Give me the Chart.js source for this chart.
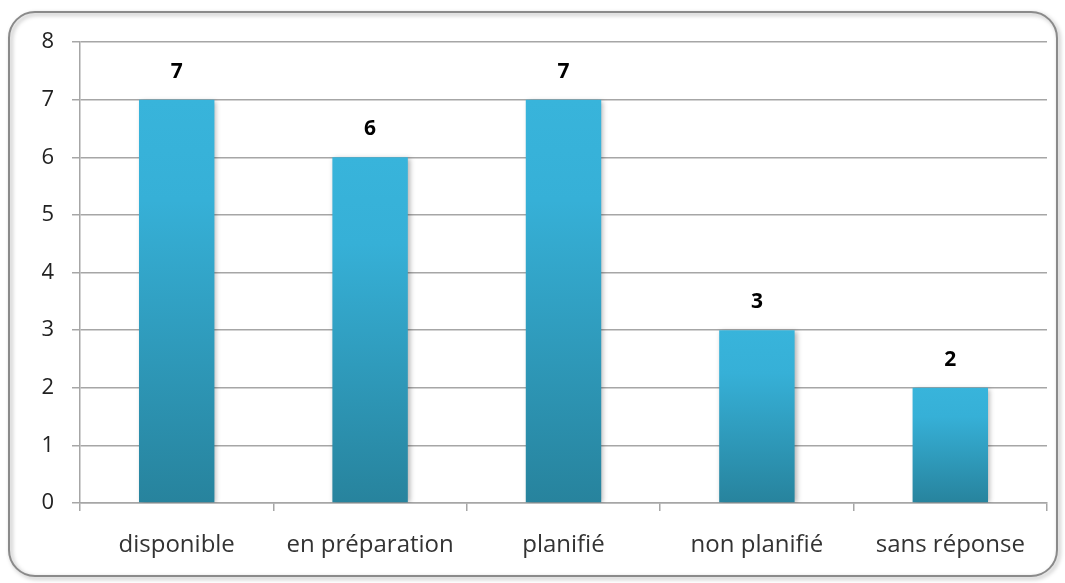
<!DOCTYPE html>
<html>
<head>
<meta charset="utf-8">
<script src="https://cdn.jsdelivr.net/npm/chart.js"></script>
<style>
  html, body { margin: 0; padding: 0; background: #fff; }
  #wrap { width: 1065px; height: 583px; }
</style>
</head>
<body>
<div id="wrap"><canvas id="c" width="1065" height="583"></canvas></div>
<script>
// data
const categories = ['disponible', 'en préparation', 'planifié', 'non planifié', 'sans réponse'];
const counts = [7, 6, 7, 3, 2];
const yTicks = [0, 1, 2, 3, 4, 5, 6, 7, 8];

const FONT = '"Open Sans", Lato, sans-serif';

// rounded frame around the whole chart
const framePlugin = {
  id: 'frame',
  beforeDraw(chart) {
    const ctx = chart.ctx;
    ctx.save();
    ctx.fillStyle = '#fff';
    ctx.fillRect(0, 0, chart.width, chart.height);
    ctx.shadowColor = 'rgba(0,0,0,0.35)';
    ctx.shadowBlur = 4;
    ctx.shadowOffsetX = 2;
    ctx.shadowOffsetY = 2;
    ctx.beginPath();
    ctx.roundRect(9, 12, 1048, 564, 26);
    ctx.strokeStyle = '#8a8a8a';
    ctx.lineWidth = 2;
    ctx.stroke();
    ctx.restore();
  }
};

// soft shadow under the bars
const barShadow = {
  id: 'barShadow',
  beforeDatasetDraw(chart) {
    const ctx = chart.ctx;
    ctx.save();
    ctx.shadowColor = 'rgba(0,0,0,0.3)';
    ctx.shadowBlur = 5;
    ctx.shadowOffsetX = 2;
    ctx.shadowOffsetY = 1;
  },
  afterDatasetDraw(chart) {
    chart.ctx.restore();
  }
};

// bold value labels above each bar
const valueLabels = {
  id: 'valueLabels',
  afterDatasetsDraw(chart) {
    const ctx = chart.ctx;
    const meta = chart.getDatasetMeta(0);
    ctx.save();
    ctx.font = 'bold 21px ' + FONT;
    ctx.fillStyle = '#000';
    ctx.textAlign = 'center';
    ctx.textBaseline = 'middle';
    meta.data.forEach((bar, i) => {
      ctx.fillText(String(counts[i]), bar.x, bar.y - 28);
    });
    ctx.restore();
  }
};

// each bar goes from light at its top to dark at its base
function barGradient(context) {
  const chart = context.chart;
  const y = chart.scales && chart.scales.y;
  if (!chart.chartArea || !y) return '#34b0d6';
  const top = y.getPixelForValue(context.raw);
  const base = y.getPixelForValue(0);
  const g = chart.ctx.createLinearGradient(0, top, 0, base);
  g.addColorStop(0, '#38b4db');
  g.addColorStop(0.25, '#36b0d7');
  g.addColorStop(1, '#27839d');
  return g;
}

new Chart(document.getElementById('c'), {
  type: 'bar',
  data: {
    labels: categories,
    datasets: [{
      data: counts,
      backgroundColor: barGradient,
      borderWidth: 0,
      categoryPercentage: 0.39,
      barPercentage: 1
    }]
  },
  options: {
    responsive: false,
    animation: false,
    devicePixelRatio: 1,
    layout: { padding: { left: 0, right: 18, top: 42, bottom: 0 } },
    plugins: { legend: { display: false }, tooltip: { enabled: false } },
    scales: {
      x: {
        offset: true,
        grid: {
          offset: true,
          drawOnChartArea: false,
          drawTicks: true,
          tickLength: 8,
          color: '#a6a6a6',
          lineWidth: 1.5
        },
        border: { color: '#a6a6a6', width: 1.5 },
        ticks: {
          color: '#333',
          font: { family: FONT, size: 24 },
          padding: 20
        },
        afterFit(s) { s.height = 80; }
      },
      y: {
        min: 0,
        max: 8,
        afterBuildTicks(s) { s.ticks = yTicks.map(v => ({ value: v })); },
        grid: {
          color: '#a6a6a6',
          lineWidth: 1.5,
          tickLength: 8
        },
        border: { color: '#a6a6a6', width: 1.5 },
        ticks: {
          color: '#222',
          font: { family: FONT, size: 22 },
          padding: 18
        },
        afterFit(s) { s.width = 80; }
      }
    }
  },
  plugins: [framePlugin, barShadow, valueLabels]
});
</script>
</body>
</html>
